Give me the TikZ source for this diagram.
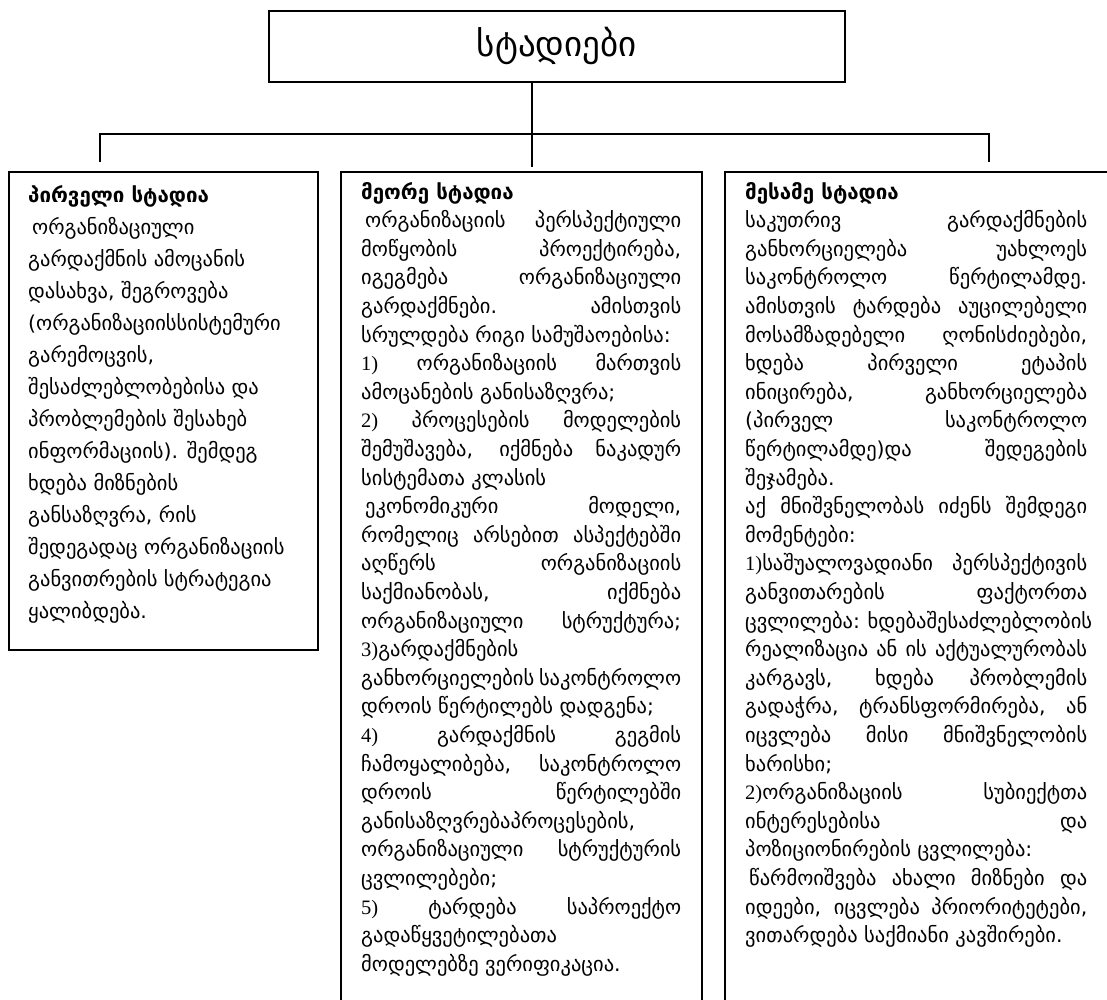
\documentclass[tikz,border=0pt]{standalone}
\usepackage{fontspec}
\setmainfont{DejaVu Sans}
\newfontfamily\numf{Liberation Serif}
\newlength\colw
% one printed line: stretched to the column width, or set flush left
\newcommand\jrow[1]{\hbox to \colw{#1}}
\newcommand\lrow[1]{\hbox to \colw{#1\hfil}}
\newcommand\nm[1]{{\numf #1}}

\begin{document}
\begin{tikzpicture}[x=1pt,y=-1pt,
  frame/.style={draw, line width=1.6pt, inner sep=0pt, anchor=north west},
  link/.style={draw, line width=1.2pt},
  body/.style={inner sep=0pt, anchor=base west, font=\fontsize{20.5}{28.6}\selectfont}]
\useasboundingbox (0,0) rectangle (1107,999);

% heading box
\node[frame, minimum width=576pt, minimum height=71pt,
      font=\fontsize{35}{40}\selectfont] (top) at (268,10) {სტადიები};

% the three stage boxes
\node[frame, minimum width=309pt, minimum height=478pt] (s1) at (8,171) {};
\node[frame, minimum width=361pt, minimum height=900pt] (s2) at (340,171) {};
\node[frame, minimum width=390pt, minimum height=900pt] (s3) at (724,171) {};

% connectors
\coordinate (j)  at (532,134);
\coordinate (e1) at (100,162);
\coordinate (e2) at (532,167);
\coordinate (e3) at (989,162);
\draw[link] (top.south -| j) -- (e2);
\draw[link] (e1) |- (j) -| (e3);

% first stage
\node[body] (t1) at (28,202) {\vtop{\colw=280pt \baselineskip=32pt
\lrow{\bfseries პირველი სტადია}
\lrow{\kern4pt ორგანიზაციული}
\lrow{გარდაქმნის ამოცანის}
\lrow{დასახვა, შეგროვება}
\lrow{(ორგანიზაციისსისტემური}
\lrow{გარემოცვის,}
\lrow{შესაძლებლობებისა და}
\lrow{პრობლემების შესახებ}
\lrow{ინფორმაციის). შემდეგ}
\lrow{ხდება მიზნების}
\lrow{განსაზღვრა, რის}
\lrow{შედეგადაც ორგანიზაციის}
\lrow{განვითრების სტრატეგია}
\lrow{ყალიბდება.}
}};

% second stage
\node[body] (t2) at (361,199) {\vtop{\colw=320pt \baselineskip=28.6pt
\lrow{\bfseries მეორე სტადია}
\jrow{\kern4pt ორგანიზაციის პერსპექტიული}
\jrow{მოწყობის პროექტირება,}
\jrow{იგეგმება ორგანიზაციული}
\jrow{გარდაქმნები. ამისთვის}
\lrow{სრულდება რიგი სამუშაოებისა:}
\jrow{\nm{1)} ორგანიზაციის მართვის}
\lrow{ამოცანების განისაზღვრა;}
\jrow{\nm{2)} პროცესების მოდელების}
\jrow{შემუშავება, იქმნება ნაკადურ}
\lrow{სისტემათა კლასის}
\jrow{\kern4pt ეკონომიკური მოდელი,}
\jrow{რომელიც არსებით ასპექტებში}
\jrow{აღწერს ორგანიზაციის}
\jrow{საქმიანობას, იქმნება}
\jrow{ორგანიზაციული სტრუქტურა;}
\lrow{\nm{3)}გარდაქმნების}
\jrow{განხორციელების საკონტროლო}
\lrow{დროის წერტილებს დადგენა;}
\jrow{\nm{4)} გარდაქმნის გეგმის}
\jrow{ჩამოყალიბება, საკონტროლო}
\jrow{დროის წერტილებში}
\lrow{განისაზღვრებაპროცესების,}
\jrow{ორგანიზაციული სტრუქტურის}
\lrow{ცვლილებები;}
\jrow{\nm{5)} ტარდება საპროექტო}
\lrow{გადაწყვეტილებათა}
\lrow{მოდელებზე ვერიფიკაცია.}
}};

% third stage
\node[body] (t3) at (745,199) {\vtop{\colw=342pt \baselineskip=28.6pt
\lrow{\bfseries მესამე სტადია}
\jrow{საკუთრივ გარდაქმნების}
\jrow{განხორციელება უახლოეს}
\jrow{საკონტროლო წერტილამდე.}
\jrow{ამისთვის ტარდება აუცილებელი}
\jrow{მოსამზადებელი ღონისძიებები,}
\jrow{ხდება პირველი ეტაპის}
\jrow{ინიცირება, განხორციელება}
\jrow{(პირველ საკონტროლო}
\jrow{წერტილამდე)და შედეგების}
\lrow{შეჯამება.}
\jrow{აქ მნიშვნელობას იძენს შემდეგი}
\lrow{მომენტები:}
\jrow{\nm{1)}საშუალოვადიანი პერსპექტივის}
\jrow{განვითარების ფაქტორთა}
\jrow{ცვლილება: ხდებაშესაძლებლობის}
\jrow{რეალიზაცია ან ის აქტუალურობას}
\jrow{კარგავს, ხდება პრობლემის}
\jrow{გადაჭრა, ტრანსფორმირება, ან}
\jrow{იცვლება მისი მნიშვნელობის}
\lrow{ხარისხი;}
\jrow{\nm{2)}ორგანიზაციის სუბიექტთა}
\jrow{ინტერესებისა და}
\lrow{პოზიციონირების ცვლილება:}
\jrow{\kern4pt წარმოიშვება ახალი მიზნები და}
\jrow{იდეები, იცვლება პრიორიტეტები,}
\lrow{ვითარდება საქმიანი კავშირები.}
}};
\end{tikzpicture}
\end{document}
